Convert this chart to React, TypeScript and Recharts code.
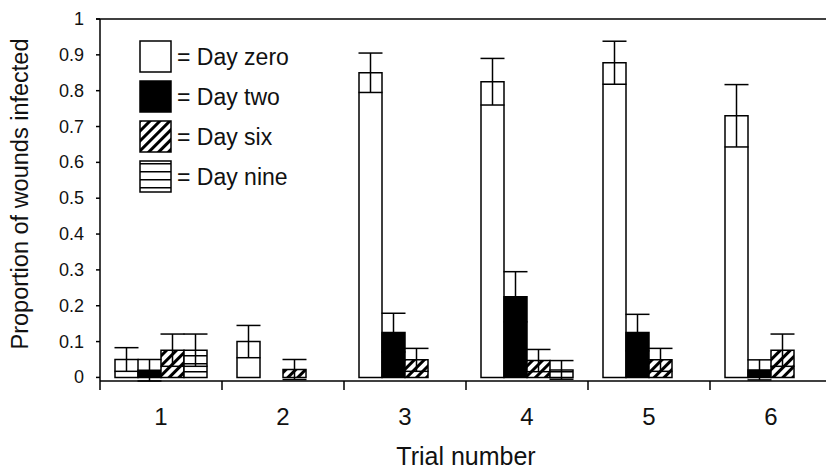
import React from 'react';
import { BarChart, Bar, XAxis, YAxis, ErrorBar, Legend } from 'recharts';

const categories = ['1', '2', '3', '4', '5', '6'];
const dayZero = [0.05, 0.1, 0.85, 0.825, 0.878, 0.73];
const dayZeroErr = [0.033, 0.045, 0.055, 0.065, 0.06, 0.087];
const dayTwo = [0.02, 0, 0.125, 0.225, 0.125, 0.021];
const dayTwoErr = [0.03, null, 0.054, 0.07, 0.051, 0.028];
const daySix = [0.076, 0.022, 0.049, 0.047, 0.049, 0.076];
const daySixErr = [0.045, 0.028, 0.032, 0.031, 0.032, 0.045];
const dayNine = [0.076, 0, 0, 0.021, 0, 0];
const dayNineErr = [0.045, null, null, 0.026, null, null];
const yTicks = [0, 0.1, 0.2, 0.3, 0.4, 0.5, 0.6, 0.7, 0.8, 0.9, 1];

const seriesNames = ['= Day zero', '= Day two', '= Day six', '= Day nine'];
const seriesFills = ['#ffffff', '#000000', 'url(#diagHatch)', 'url(#horizHatch)'];

const data = categories.map((c, i) => ({
  trial: c,
  zero: dayZero[i],
  zeroErr: dayZeroErr[i],
  two: dayTwo[i],
  twoErr: dayTwoErr[i],
  six: daySix[i],
  sixErr: daySixErr[i],
  nine: dayNine[i],
  nineErr: dayNineErr[i],
}));

const FONT = '"Liberation Sans", Arial, sans-serif';
const TEXT = '#111';
const PLOT_RIGHT = 834;

const XTick = (props: any) => {
  const { x, y, payload } = props;
  const off = payload && payload.offset ? payload.offset : 0;
  return (
    <g>
      <line x1={x - off} x2={x - off} y1={y - 26} y2={y - 17} stroke="#000" strokeWidth={1.5} />
      <text x={x} y={y} dy={18} textAnchor="middle" fontSize={24} fontFamily={FONT} fill={TEXT}>
        {payload.value}
      </text>
    </g>
  );
};

const YTick = (props: any) => {
  const { x, y, payload } = props;
  const v = payload.value;
  return (
    <g>
      {v === 1 ? (
        <line x1={x + 12} x2={PLOT_RIGHT} y1={y} y2={y} stroke="#000" strokeWidth={1.5} />
      ) : null}
      <text x={x} y={y} dy={6} textAnchor="end" fontSize={18} fontFamily={FONT} fill={TEXT}>
        {String(Math.round(v * 10) / 10)}
      </text>
    </g>
  );
};

const renderLegend = () => (
  <div style={{ fontFamily: FONT, fontSize: 23, color: TEXT }}>
    {seriesNames.map((name, i) => (
      <div key={name} style={{ display: 'flex', alignItems: 'center', height: 40 }}>
        <svg width={34} height={34} style={{ display: 'block' }}>
          <rect x={1} y={1} width={31} height={31} fill={seriesFills[i]} stroke="#000" strokeWidth={1.5} />
        </svg>
        <span style={{ marginLeft: 4, whiteSpace: 'nowrap' }}>{name}</span>
      </div>
    ))}
  </div>
);

const YLabel = (props: any) => {
  const { viewBox } = props;
  const cx = 20;
  const cy = viewBox.y + viewBox.height / 2 - 6;
  return (
    <text
      x={cx}
      y={cy}
      transform={`rotate(-90, ${cx}, ${cy})`}
      textAnchor="middle"
      dominantBaseline="central"
      fontSize={23.5}
      fontFamily={FONT}
      fill={TEXT}
    >
      Proportion of wounds infected
    </text>
  );
};

const XLabel = (props: any) => {
  const { viewBox } = props;
  const cx = viewBox.x + viewBox.width / 2;
  return (
    <text x={cx} y={465} textAnchor="middle" fontSize={25} fontFamily={FONT} fill={TEXT}>
      Trial number
    </text>
  );
};

export default function App() {
  return (
    <div
      style={{
        position: 'absolute',
        left: 0,
        top: 0,
        width: 826,
        height: 472,
        overflow: 'hidden',
        background: '#fff',
      }}
    >
      <BarChart
        width={834}
        height={472}
        data={data}
        margin={{ top: 19, right: 2, bottom: 0, left: 0 }}
        barCategoryGap={15}
        barGap={0}
      >
        <defs>
          <pattern id="diagHatch" patternUnits="userSpaceOnUse" width="7" height="7" patternTransform="rotate(45)">
            <rect width="7" height="7" fill="#fff" />
            <rect x="0" y="0" width="3" height="7" fill="#000" />
          </pattern>
          <pattern id="horizHatch" patternUnits="userSpaceOnUse" width="8" height="8">
            <rect width="8" height="8" fill="#fff" />
            <rect x="0" y="3" width="8" height="1.5" fill="#000" />
          </pattern>
        </defs>
        <XAxis
          dataKey="trial"
          height={91}
          axisLine={{ stroke: '#000', strokeWidth: 1.5 }}
          tickLine={false}
          tickSize={9}
          tickMargin={17}
          tick={<XTick />}
          interval={0}
          label={<XLabel />}
        />
        <YAxis
          width={100}
          domain={[0, 1]}
          ticks={yTicks}
          interval={0}
          axisLine={{ stroke: '#000', strokeWidth: 1.5 }}
          tickLine={{ stroke: '#000', strokeWidth: 1.5 }}
          tickSize={4}
          tickMargin={12}
          tick={<YTick />}
          label={<YLabel />}
        />
        <Legend
          layout="horizontal"
          verticalAlign="middle"
          align="center"
          content={renderLegend}
          wrapperStyle={{ left: 139, top: 37, width: 210, height: 160 }}
        />
        <Bar dataKey="zero" name="Day zero" fill={seriesFills[0]} stroke="#000" strokeWidth={1.5} isAnimationActive={false}>
          <ErrorBar dataKey="zeroErr" width={12} stroke="#000" strokeWidth={1.5} />
        </Bar>
        <Bar dataKey="two" name="Day two" fill={seriesFills[1]} stroke="#000" strokeWidth={1.5} isAnimationActive={false}>
          <ErrorBar dataKey="twoErr" width={12} stroke="#000" strokeWidth={1.5} />
        </Bar>
        <Bar dataKey="six" name="Day six" fill={seriesFills[2]} stroke="#000" strokeWidth={1.5} isAnimationActive={false}>
          <ErrorBar dataKey="sixErr" width={12} stroke="#000" strokeWidth={1.5} />
        </Bar>
        <Bar dataKey="nine" name="Day nine" fill={seriesFills[3]} stroke="#000" strokeWidth={1.5} isAnimationActive={false}>
          <ErrorBar dataKey="nineErr" width={12} stroke="#000" strokeWidth={1.5} />
        </Bar>
      </BarChart>
    </div>
  );
}
